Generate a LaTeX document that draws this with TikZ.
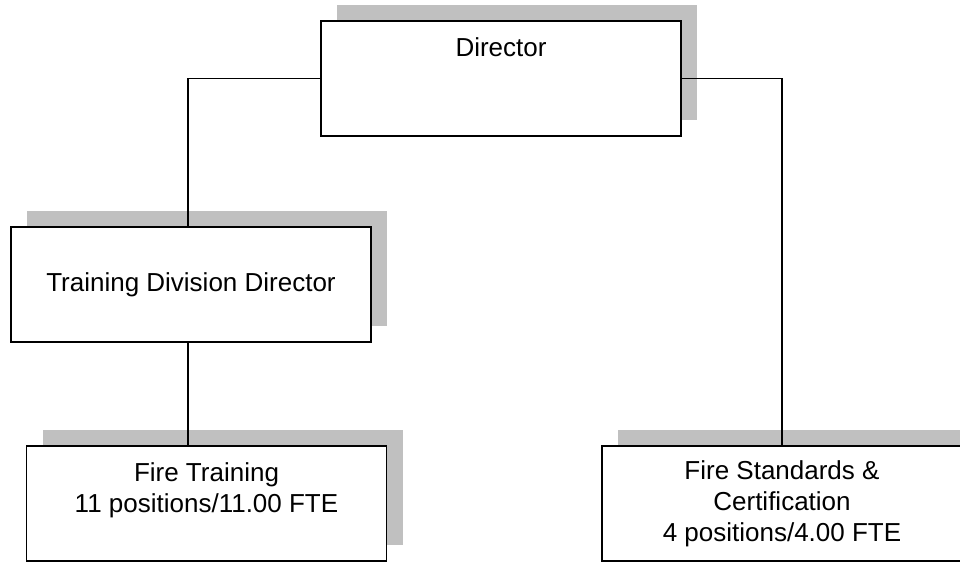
\documentclass[tikz,border=0pt]{standalone}
\usepackage{fontspec}
\setmainfont{Liberation Sans}
\usetikzlibrary{shadows}
\definecolor{shadowgray}{RGB}{192,192,192}
\tikzset{
  unit/.style={draw, line width=1.3pt, fill=white, minimum width=360pt,
    minimum height=115pt, inner sep=0pt, align=center,
    font=\fontsize{26}{31}\selectfont,
    drop shadow={shadow xshift=16pt, shadow yshift=16pt, fill=shadowgray, opacity=1}},
  link/.style={line width=1.3pt}
}

\begin{document}
\begin{tikzpicture}[x=1pt,y=-1pt]

  \clip (0,0) rectangle (960,562);
  \fill[white] (0,0) rectangle (960,562);

  % boxes
  \node[unit] (dir) at (501,78.5) {Director\\~\\~};
  \node[unit] (tdd) at (191,284.5) {Training Division Director};
  \node[unit] (ft) at (206.5,503.5) {Fire Training\\11 positions/11.00 FTE\\~};
  \node[unit] (fs) at (782,503.5) {Fire Standards \&\\Certification\\4 positions/4.00 FTE};

  % lines
  \draw[link] (dir.west) -| ([xshift=-3pt]tdd.north);
  \draw[link] ([xshift=-3pt]tdd.south) -- ([xshift=-3pt]tdd.south |- ft.north);
  \draw[link] (dir.east) -| (fs.north);

\end{tikzpicture}
\end{document}
